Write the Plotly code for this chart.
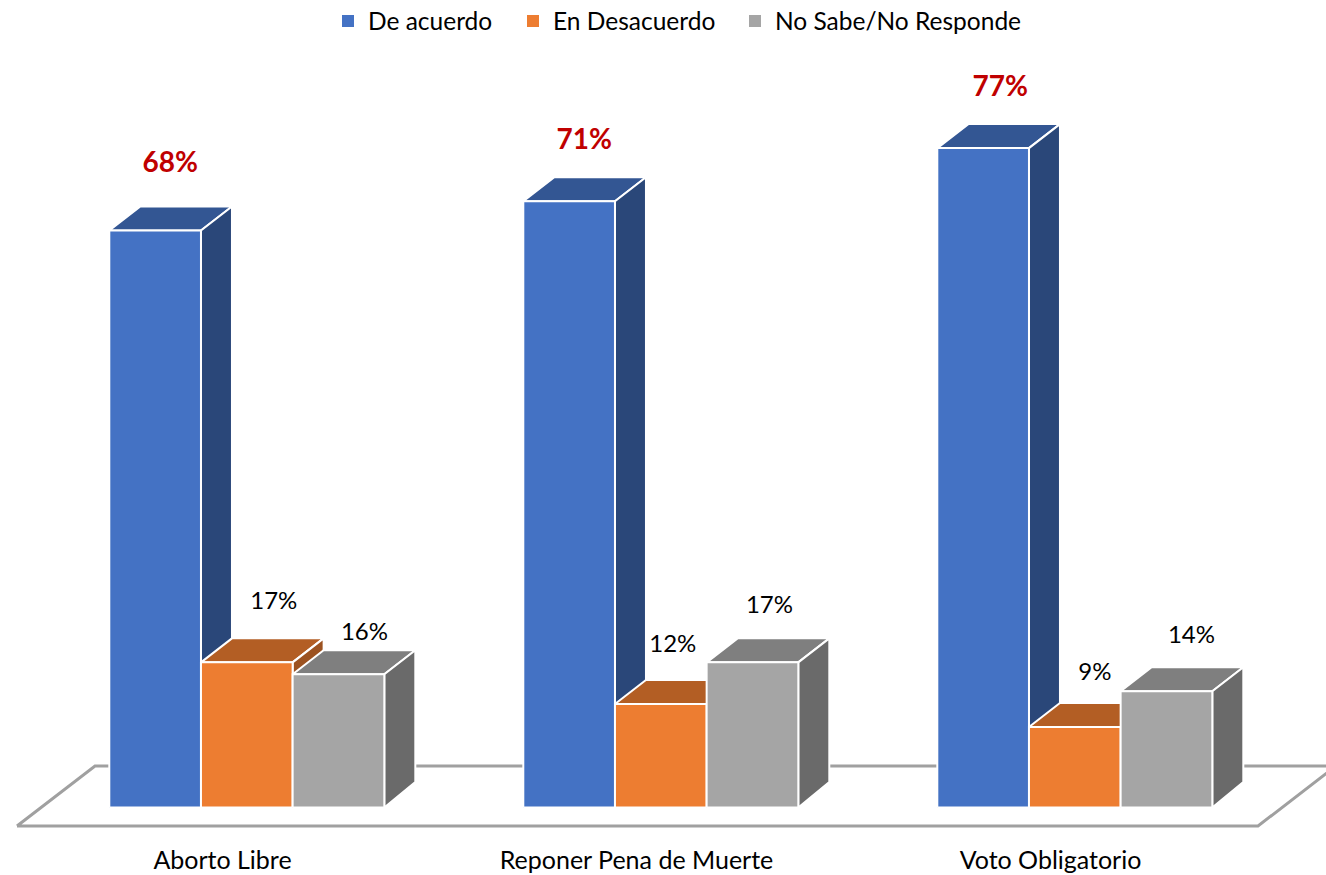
import plotly.graph_objects as go

categories = ["Aborto Libre", "Reponer Pena de Muerte", "Voto Obligatorio"]
series_names = ["De acuerdo", "En Desacuerdo", "No Sabe/No Responde"]
de_acuerdo = [67.7, 71.15, 77.4]
en_desacuerdo = [16.9, 12.0, 9.3]
no_sabe = [15.5, 16.9, 13.5]
label_acuerdo = ["68%", "71%", "77%"]
label_desacuerdo = ["17%", "12%", "9%"]
label_no_sabe = ["16%", "17%", "14%"]

# scales: pixels per unit, used only to express the pseudo-3D styling in data units
W, H = 1326, 875
M_B = 32
M_T = 60
PX_X = 414.0
PX_Y = 8.5
X0_PX = 222.5
Y0_PX = 806.0
ux = lambda p: p / PX_X
uy = lambda p: p / PX_Y

BAR_W = ux(91.67)
BAR_START = ux(-113.2)
DX, DY = ux(31), uy(24)
BASE = uy(-1.5)

front_colors = ["#4472C4", "#ED7D31", "#A5A5A5"]
top_colors = ["#335693", "#B35E24", "#7F7F7F"]
side_colors = ["#2A4779", "#9C5220", "#6A6A6A"]
FONT = "Lato"

all_values = [de_acuerdo, en_desacuerdo, no_sabe]
all_labels = [label_acuerdo, label_desacuerdo, label_no_sabe]
label_dx = [[15, 15, 17], [27, 12, 20], [26, 17, 25]]
label_dy = [[66, 59, 59], [59, 58, 53], [40, 55, 54]]
label_size = [28, 24, 24]
label_color = ["#C00000", "#000000", "#000000"]
label_weight = ["bold", "normal", "normal"]
legend_ids = ["legend", "legend2", "legend3"]
legend_left_px = [328, 513, 735]

fig = go.Figure()
xs = list(range(len(categories)))

# real bars carry the legend; pseudo-3D faces are painted over them in depth order
for s, name in enumerate(series_names):
    fig.add_bar(x=xs, y=all_values[s], name=name, width=BAR_W,
                offset=BAR_START + s * BAR_W, legend=legend_ids[s], showlegend=True,
                marker=dict(color=front_colors[s], line=dict(width=0)),
                hoverinfo="skip")

# floor
fx0, fx1 = ux(-205.5), ux(-205.5 + 1241)
fy0, fy1 = uy(-20), uy(40)
fdx = ux(78)
fig.add_scatter(x=[fx0, fx1, fx1 + fdx, fx0 + fdx, fx0], y=[fy0, fy0, fy1, fy1, fy0],
                mode="lines", line=dict(color="#A0A0A0", width=3),
                showlegend=False, hoverinfo="skip")


def face(xp, yp, color):
    fig.add_scatter(x=xp, y=yp, mode="lines", fill="toself", fillcolor=color,
                    line=dict(color="#FFFFFF", width=2),
                    showlegend=False, hoverinfo="skip")


for i in xs:
    for s in range(3):
        v = all_values[s][i]
        a = i + BAR_START + s * BAR_W
        b = a + BAR_W
        face([a, b, b + DX, a + DX, a], [v, v, v + DY, v + DY, v], top_colors[s])
        face([b, b + DX, b + DX, b, b], [BASE, DY, v + DY, v, BASE], side_colors[s])
        face([a, b, b, a, a], [BASE, BASE, v, v, BASE], front_colors[s])

# data labels
for s in range(3):
    lx = [i + BAR_START + (s + 0.5) * BAR_W + ux(label_dx[s][i]) for i in xs]
    ly = [all_values[s][i] + uy(label_dy[s][i]) for i in xs]
    fig.add_scatter(x=lx, y=ly, mode="text", text=all_labels[s], textposition="middle center",
                    textfont=dict(family=FONT, size=label_size[s], color=label_color[s],
                                  weight=label_weight[s]),
                    showlegend=False, hoverinfo="skip")

legend_style = {
    legend_ids[s]: dict(orientation="h", xref="container", yref="container",
                        x=legend_left_px[s] / W, xanchor="left",
                        y=1 - 21 / H, yanchor="middle",
                        font=dict(family=FONT, size=24.5), bgcolor="rgba(0,0,0,0)",
                        itemclick=False, itemdoubleclick=False)
    for s in range(3)
}

fig.update_layout(
    autosize=True,
    margin=dict(l=0, r=0, t=M_T, b=M_B),
    paper_bgcolor="#FFFFFF", plot_bgcolor="#FFFFFF",
    showlegend=True,
    barmode="overlay",
    font=dict(family=FONT, size=24, color="#000000"),
    xaxis=dict(range=[-X0_PX / PX_X, (W - X0_PX) / PX_X], tickmode="array", tickvals=xs,
               ticktext=categories, showgrid=False, zeroline=False, showline=False, ticks="",
               tickfont=dict(family=FONT, size=25, color="#000000")),
    yaxis=dict(range=[(Y0_PX - (H - M_B)) / PX_Y, (Y0_PX - M_T) / PX_Y], visible=False,
               showgrid=False, zeroline=False),
    **legend_style,
)
fig.write_html("out.html", config=dict(displayModeBar=False, responsive=True),
               default_width="100%", default_height="100%",
               post_script="document.body.style.margin='0';document.documentElement.style.height='100%';document.body.style.height='100%';window.dispatchEvent(new Event('resize'));")
